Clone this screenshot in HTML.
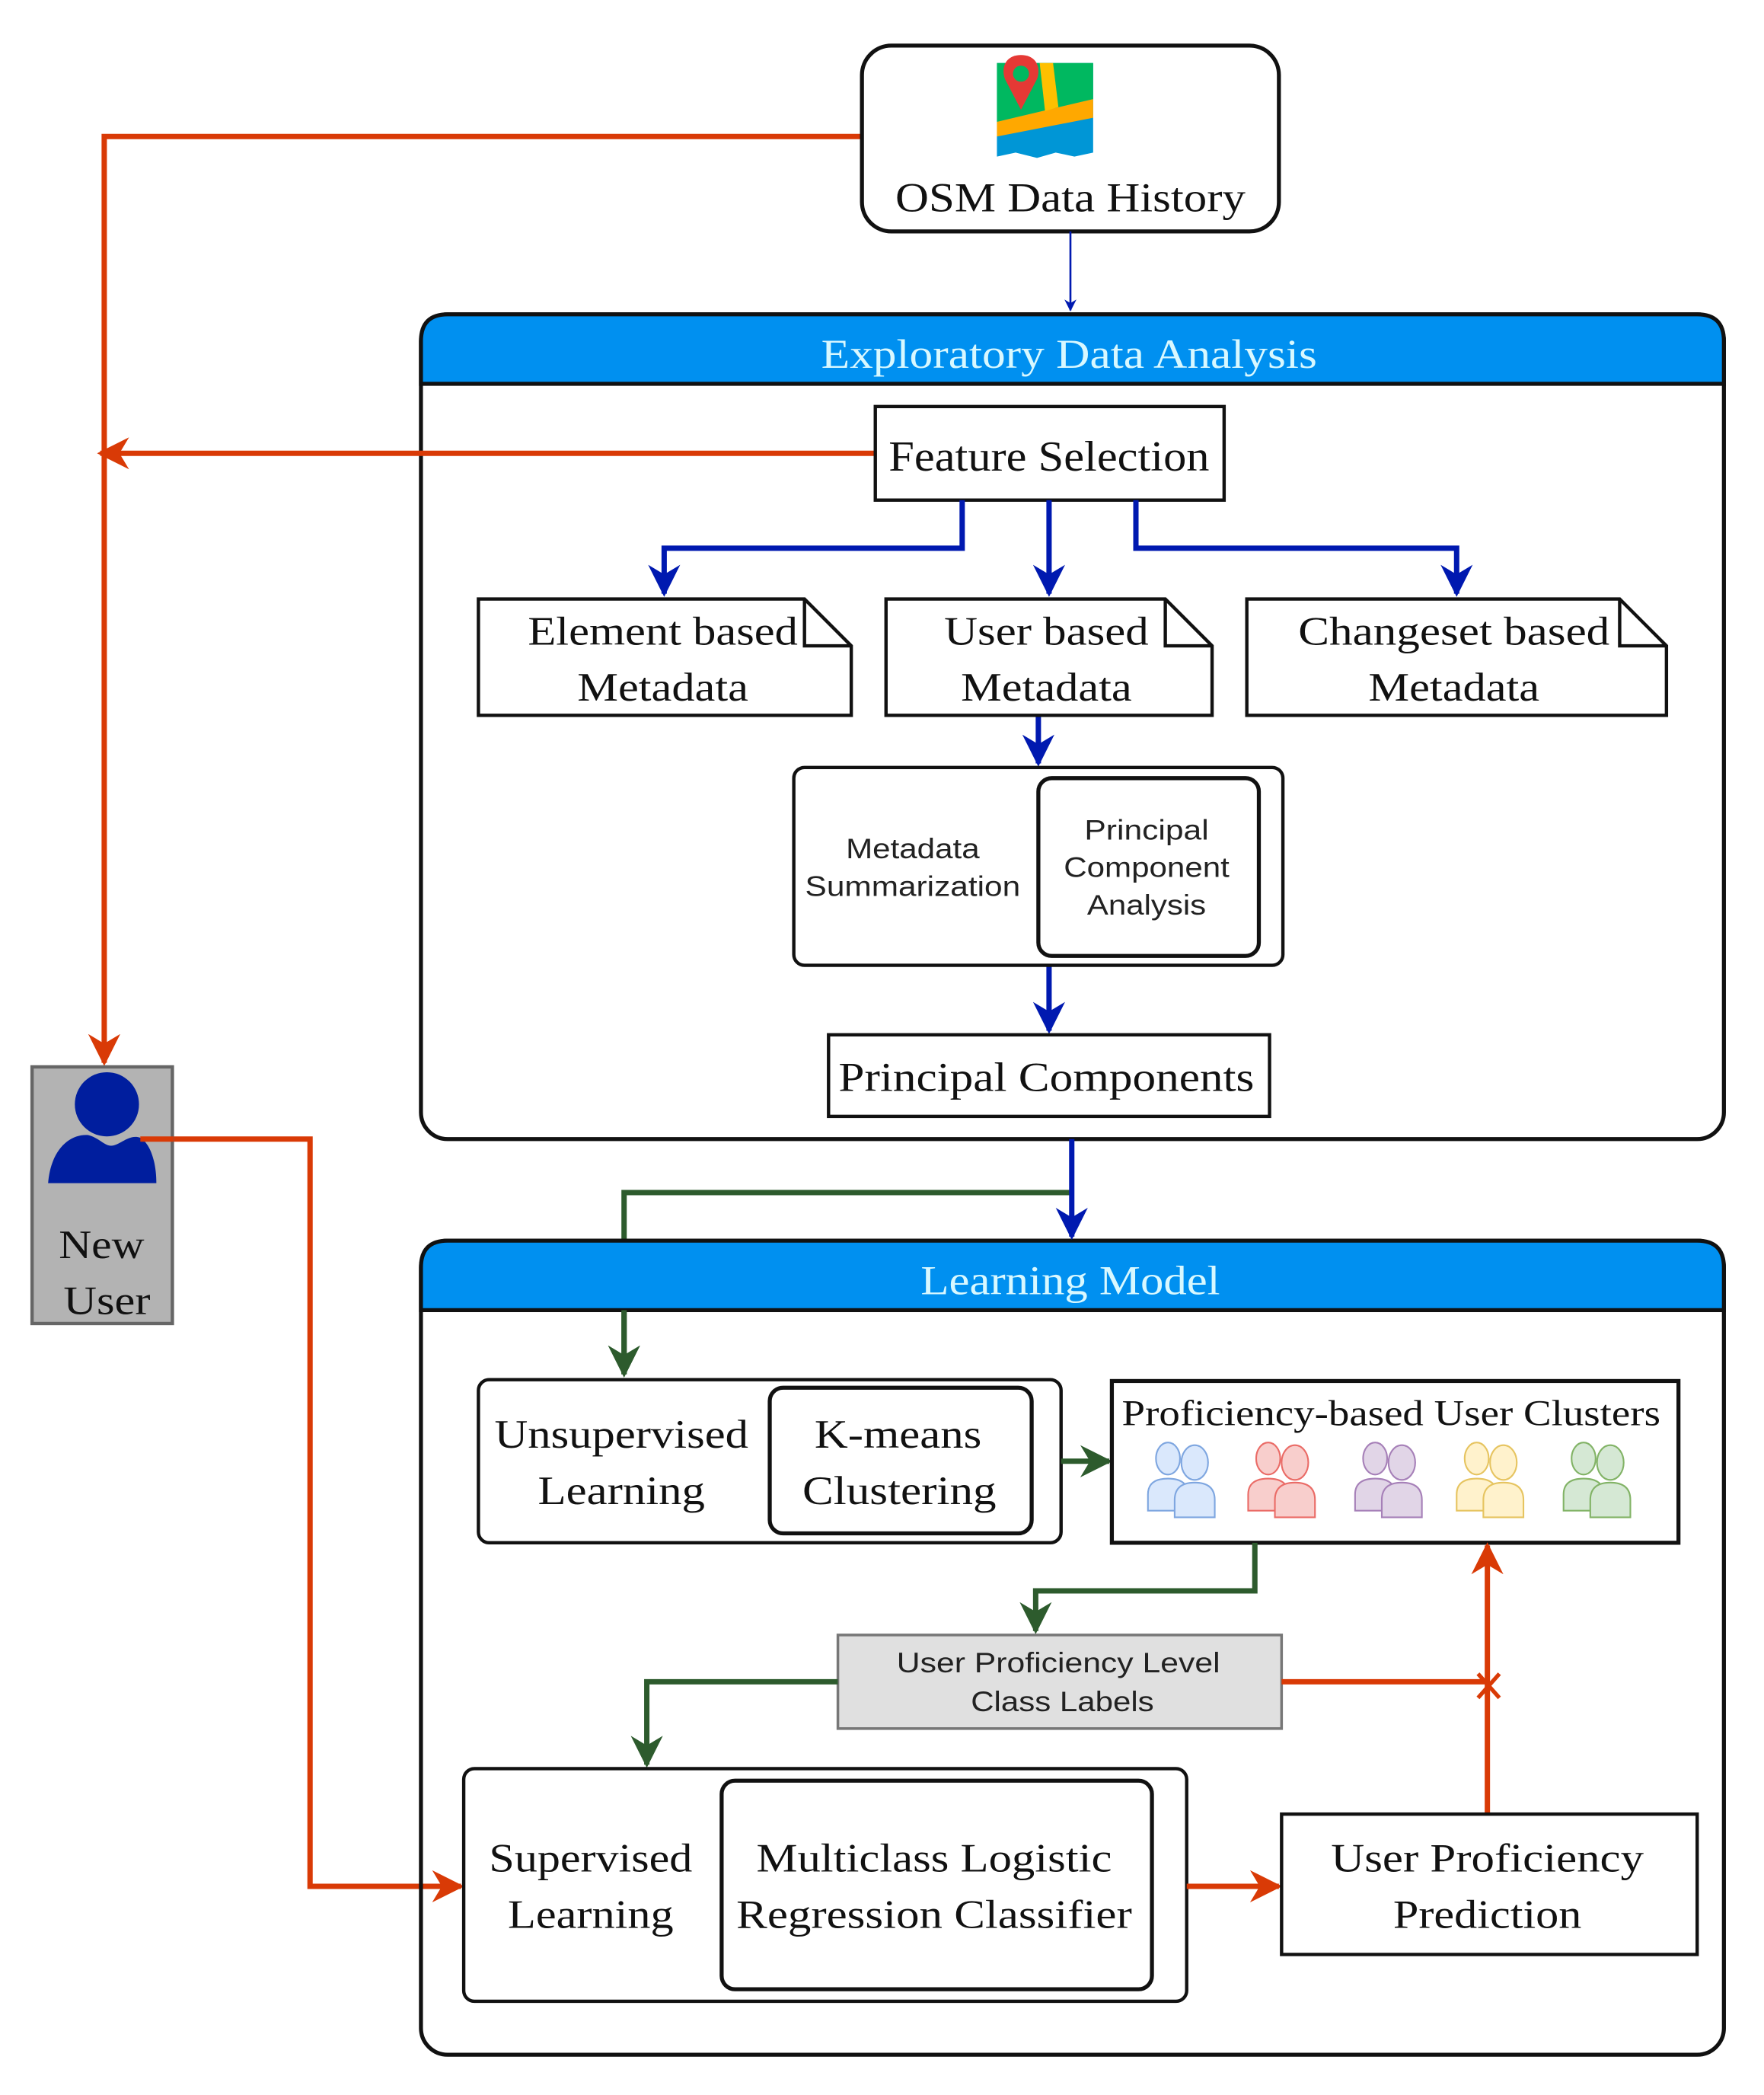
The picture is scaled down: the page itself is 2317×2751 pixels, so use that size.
<!DOCTYPE html>
<html><head><meta charset="utf-8"><style>html,body{margin:0;padding:0;background:#fff}svg{display:block}</style></head>
<body>
<svg width="2317" height="2751" viewBox="0 0 1320 1567" xmlns="http://www.w3.org/2000/svg">
<defs>
<marker id="ab2" viewBox="0 0 10 10" refX="9" refY="5" markerWidth="9" markerHeight="9" orient="auto" markerUnits="userSpaceOnUse"><path d="M0,0 L10,5 L0,10 L3,5 Z" fill="#0019B0"/></marker>
<marker id="ar" viewBox="0 0 10 10" refX="9" refY="5" markerWidth="24" markerHeight="24" orient="auto" markerUnits="userSpaceOnUse"><path d="M0,0 L10,5 L0,10 L3,5 Z" fill="#D93A06"/></marker>
<marker id="abl" viewBox="0 0 10 10" refX="9" refY="5" markerWidth="24" markerHeight="24" orient="auto" markerUnits="userSpaceOnUse"><path d="M0,0 L10,5 L0,10 L3,5 Z" fill="#0019B0"/></marker>
<marker id="ag" viewBox="0 0 10 10" refX="9" refY="5" markerWidth="24" markerHeight="24" orient="auto" markerUnits="userSpaceOnUse"><path d="M0,0 L10,5 L0,10 L3,5 Z" fill="#2D5B2D"/></marker>
<g id="users">
<ellipse cx="17" cy="13" rx="9" ry="12"/>
<path d="M2,52 L2,40 Q2,28 17,28 Q32,28 32,40 L32,52 Z"/>
<ellipse cx="37" cy="16" rx="10" ry="13"/>
<path d="M22,57 L22,44 Q22,31 37,31 Q52,31 52,44 L52,57 Z"/>
</g>
</defs>
<style>
text{font-family:"Liberation Serif",serif;fill:#111}
.s{font-family:"Liberation Sans",sans-serif;font-size:21px;fill:#222}
.b{fill:none;stroke:#111;stroke-width:2.5}
</style>

<!-- red connectors -->
<polyline points="645,102 78,102 78,795" fill="none" stroke="#D93A06" stroke-width="4" marker-end="url(#ar)"/>
<polyline points="105,852 232,852 232,1411 345,1411" fill="none" stroke="#D93A06" stroke-width="4" marker-end="url(#ar)"/>

<!-- OSM box -->
<rect x="645" y="34" width="312" height="139" rx="22" fill="#fff" stroke="#111" stroke-width="3"/>
<g>
<path d="M746,47 L818,47 L818,114 L804,117 L790,114 L776,118 L760,114 L746,117 Z" fill="#0096D6"/>
<path d="M746,47 L818,47 L818,74 L746,91 Z" fill="#00B860"/>
<path d="M746,91 L818,74 L818,88 L746,102 Z" fill="#FFA800"/>
<path d="M778,47 L788,47 L792,80 L782,83 Z" fill="#FFC000"/>
<path d="M764,41 C752,41 749,51 752,59 L764,82 L776,59 C779,51 776,41 764,41 Z" fill="#E53935"/>
<circle cx="764" cy="55" r="6" fill="#00B860"/>
</g>
<text x="801" y="158" font-size="31" text-anchor="middle" textLength="262" lengthAdjust="spacingAndGlyphs">OSM Data History</text>
<line x1="801" y1="173" x2="801" y2="232" stroke="#0019B0" stroke-width="1.5" marker-end="url(#ab2)"/>

<!-- EDA container -->
<rect x="315" y="235" width="975" height="617" rx="20" fill="#fff" stroke="#111" stroke-width="3"/>
<path d="M315,287 L315,255 Q315,235 335,235 L1270,235 Q1290,235 1290,255 L1290,287 Z" fill="#0090F0" stroke="#111" stroke-width="3"/>
<text x="800" y="275" font-size="31" text-anchor="middle" textLength="371" lengthAdjust="spacingAndGlyphs" style="fill:#D8F8FF">Exploratory Data Analysis</text>

<line x1="655" y1="339" x2="75" y2="339" stroke="#D93A06" stroke-width="4" marker-end="url(#ar)"/>

<rect x="655" y="304" width="261" height="70" fill="#fff" class="b"/>
<text x="785" y="352" font-size="32" text-anchor="middle" textLength="240" lengthAdjust="spacingAndGlyphs">Feature Selection</text>

<g fill="none" stroke="#0019B0" stroke-width="4">
<polyline points="720,374 720,410 497,410 497,444" marker-end="url(#abl)"/>
<line x1="785" y1="374" x2="785" y2="444" marker-end="url(#abl)"/>
<polyline points="850,374 850,410 1090,410 1090,444" marker-end="url(#abl)"/>
<line x1="777" y1="535" x2="777" y2="571" marker-end="url(#abl)"/>
<line x1="785" y1="722" x2="785" y2="771" marker-end="url(#abl)"/>
</g>

<path d="M358,448 L602,448 L637,483 L637,535 L358,535 Z M602,448 L602,483 L637,483" fill="#fff" class="b"/>
<text x="496" y="482" font-size="30" text-anchor="middle" textLength="202" lengthAdjust="spacingAndGlyphs">Element based</text>
<text x="496" y="524" font-size="30" text-anchor="middle" textLength="128" lengthAdjust="spacingAndGlyphs">Metadata</text>
<path d="M663,448 L872,448 L907,483 L907,535 L663,535 Z M872,448 L872,483 L907,483" fill="#fff" class="b"/>
<text x="783" y="482" font-size="30" text-anchor="middle" textLength="153" lengthAdjust="spacingAndGlyphs">User based</text>
<text x="783" y="524" font-size="30" text-anchor="middle" textLength="128" lengthAdjust="spacingAndGlyphs">Metadata</text>
<path d="M933,448 L1212,448 L1247,483 L1247,535 L933,535 Z M1212,448 L1212,483 L1247,483" fill="#fff" class="b"/>
<text x="1088" y="482" font-size="30" text-anchor="middle" textLength="233" lengthAdjust="spacingAndGlyphs">Changeset based</text>
<text x="1088" y="524" font-size="30" text-anchor="middle" textLength="128" lengthAdjust="spacingAndGlyphs">Metadata</text>

<rect x="594" y="574" width="366" height="148" rx="8" fill="#fff" class="b"/>
<rect x="777" y="582" width="165" height="133" rx="10" fill="#fff" stroke="#111" stroke-width="3"/>
<text class="s" x="683" y="642" text-anchor="middle" textLength="100" lengthAdjust="spacingAndGlyphs">Metadata</text>
<text class="s" x="683" y="670" text-anchor="middle" textLength="161" lengthAdjust="spacingAndGlyphs">Summarization</text>
<text class="s" x="858" y="628" text-anchor="middle" textLength="93" lengthAdjust="spacingAndGlyphs">Principal</text>
<text class="s" x="858" y="656" text-anchor="middle" textLength="124" lengthAdjust="spacingAndGlyphs">Component</text>
<text class="s" x="858" y="684" text-anchor="middle" textLength="89" lengthAdjust="spacingAndGlyphs">Analysis</text>

<rect x="620" y="774" width="330" height="61" fill="#fff" class="b"/>
<text x="783" y="816" font-size="31" text-anchor="middle" textLength="311" lengthAdjust="spacingAndGlyphs">Principal Components</text>

<!-- between containers -->
<polyline points="802,892 467,892 467,1028" fill="none" stroke="#2D5B2D" stroke-width="4" marker-end="url(#ag)"/>

<!-- New user -->
<rect x="24" y="798" width="105" height="192" fill="#B3B3B3" stroke="#666" stroke-width="2.5"/>
<circle cx="80" cy="826" r="24" fill="#001E9E"/>
<path d="M36,885 C38,860 52,848 66,849 C74,851 78,857 83,857 C90,857 96,848 105,851 C113,856 117,870 117,885 Z" fill="#001E9E"/>
<line x1="105" y1="852" x2="130" y2="852" stroke="#D93A06" stroke-width="4"/>
<text x="76" y="941" font-size="30" text-anchor="middle" textLength="64" lengthAdjust="spacingAndGlyphs">New</text>
<text x="80" y="983" font-size="30" text-anchor="middle" textLength="65" lengthAdjust="spacingAndGlyphs">User</text>

<!-- Learning container -->
<rect x="315" y="928" width="975" height="609" rx="20" fill="none" stroke="#111" stroke-width="3"/>
<path d="M315,980 L315,948 Q315,928 335,928 L1270,928 Q1290,928 1290,948 L1290,980 Z" fill="#0090F0" stroke="#111" stroke-width="3"/>
<text x="801" y="968" font-size="31" text-anchor="middle" textLength="224" lengthAdjust="spacingAndGlyphs" style="fill:#D8F8FF">Learning Model</text>
<line x1="802" y1="852" x2="802" y2="925" stroke="#0019B0" stroke-width="4" marker-end="url(#abl)"/>
<line x1="467" y1="980" x2="467" y2="1028" stroke="#2D5B2D" stroke-width="4" marker-end="url(#ag)"/>

<rect x="358" y="1032" width="436" height="122" rx="8" fill="#fff" class="b"/>
<rect x="576" y="1038" width="196" height="109" rx="10" fill="#fff" stroke="#111" stroke-width="3"/>
<text x="465" y="1083" font-size="30" text-anchor="middle" textLength="190" lengthAdjust="spacingAndGlyphs">Unsupervised</text>
<text x="465" y="1125" font-size="30" text-anchor="middle" textLength="125" lengthAdjust="spacingAndGlyphs">Learning</text>
<text x="672" y="1083" font-size="30" text-anchor="middle" textLength="125" lengthAdjust="spacingAndGlyphs">K-means</text>
<text x="673" y="1125" font-size="30" text-anchor="middle" textLength="145" lengthAdjust="spacingAndGlyphs">Clustering</text>
<line x1="794" y1="1093" x2="830" y2="1093" stroke="#2D5B2D" stroke-width="4" marker-end="url(#ag)"/>

<rect x="832" y="1033" width="424" height="121" fill="#fff" stroke="#111" stroke-width="3"/>
<text x="1041" y="1066" font-size="27" text-anchor="middle" textLength="403" lengthAdjust="spacingAndGlyphs">Proficiency-based User Clusters</text>
<use href="#users" x="857" y="1078" fill="#DAE8FC" stroke="#7EA6E0" stroke-width="1.2"/>
<use href="#users" x="932" y="1078" fill="#F8CECC" stroke="#EA6B66" stroke-width="1.2"/>
<use href="#users" x="1012" y="1078" fill="#E1D5E7" stroke="#A680B8" stroke-width="1.2"/>
<use href="#users" x="1088" y="1078" fill="#FFF2CC" stroke="#E6C460" stroke-width="1.2"/>
<use href="#users" x="1168" y="1078" fill="#D5E8D4" stroke="#82B366" stroke-width="1.2"/>

<polyline points="939,1154 939,1190 775,1190 775,1220" fill="none" stroke="#2D5B2D" stroke-width="4" marker-end="url(#ag)"/>
<rect x="627" y="1223" width="332" height="70" fill="#E0E0E0" stroke="#777" stroke-width="2"/>
<text class="s" x="792" y="1251" text-anchor="middle" textLength="242" lengthAdjust="spacingAndGlyphs">User Proficiency Level</text>
<text class="s" x="795" y="1280" text-anchor="middle" textLength="137" lengthAdjust="spacingAndGlyphs">Class Labels</text>
<polyline points="627,1258 484,1258 484,1320" fill="none" stroke="#2D5B2D" stroke-width="4" marker-end="url(#ag)"/>

<line x1="959" y1="1258" x2="1113" y2="1258" stroke="#D93A06" stroke-width="4"/>
<line x1="1113" y1="1357" x2="1113" y2="1156" stroke="#D93A06" stroke-width="4" marker-end="url(#ar)"/>
<path d="M1106,1252 L1122,1270 M1122,1252 L1106,1270" stroke="#D93A06" stroke-width="3"/>

<rect x="347" y="1323" width="541" height="174" rx="8" fill="#fff" class="b"/>
<rect x="540" y="1332" width="322" height="156" rx="10" fill="#fff" stroke="#111" stroke-width="3"/>
<text x="442" y="1400" font-size="30" text-anchor="middle" textLength="152" lengthAdjust="spacingAndGlyphs">Supervised</text>
<text x="442" y="1442" font-size="30" text-anchor="middle" textLength="124" lengthAdjust="spacingAndGlyphs">Learning</text>
<text x="699" y="1400" font-size="30" text-anchor="middle" textLength="266" lengthAdjust="spacingAndGlyphs">Multiclass Logistic</text>
<text x="699" y="1442" font-size="30" text-anchor="middle" textLength="296" lengthAdjust="spacingAndGlyphs">Regression Classifier</text>
<line x1="888" y1="1411" x2="957" y2="1411" stroke="#D93A06" stroke-width="4" marker-end="url(#ar)"/>

<rect x="959" y="1357" width="311" height="105" fill="#fff" class="b"/>
<text x="1113" y="1400" font-size="30" text-anchor="middle" textLength="234" lengthAdjust="spacingAndGlyphs">User Proficiency</text>
<text x="1113" y="1442" font-size="30" text-anchor="middle" textLength="141" lengthAdjust="spacingAndGlyphs">Prediction</text>
</svg>
</body></html>
